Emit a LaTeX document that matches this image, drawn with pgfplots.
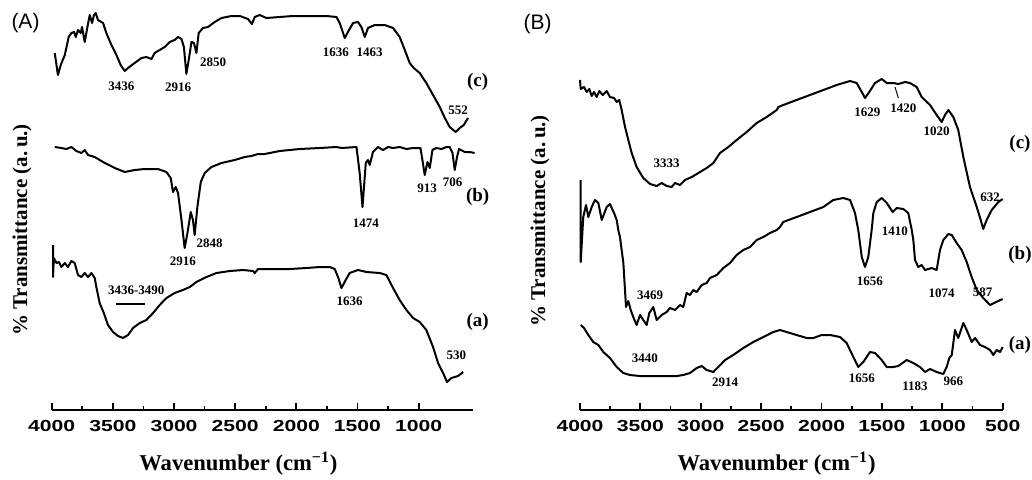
\documentclass[border=0pt]{standalone}
\usepackage{fontspec}
\setmainfont{Liberation Serif}
\setsansfont{Liberation Sans}
\newfontfamily\tickfont{Liberation Sans}[FakeStretch=1.32]
\usepackage{pgfplots}
\pgfplotsset{compat=1.18}

% one px of the reference = 0.5pt
\pgfplotsset{
  ftir/.style={
    scale only axis, height=205pt, ymin=0, ymax=410,
    x dir=reverse, enlargelimits=false, clip=false,
    axis x line*=bottom, axis y line=none, ytick=\empty,
    x axis line style={-, line width=1pt},
    tick align=inside,
    major tick length=3.6pt, minor tick length=2.1pt,
    tick style={black, line width=0.9pt},
    minor x tick num=1,
    /pgf/number format/assume math mode=true,
    /pgf/number format/1000 sep={},
    xticklabel style={font=\tickfont\bfseries\fontsize{8}{9}\selectfont, yshift=-1.6pt},
  },
  spec/.style={black, line width=1pt, line join=round, mark=none},
}
\tikzset{
  pk/.style={font=\bfseries\fontsize{6.5}{7}\selectfont, inner sep=0pt},
  lab/.style={font=\bfseries\fontsize{9.5}{10}\selectfont, inner sep=0pt},
}

\begin{document}
\begin{tikzpicture}

% ---------------- panel A ----------------
\begin{axis}[ftir, at={(25.85pt,34.5pt)}, anchor=south west,
  width=210.8pt, xmin=553, xmax=4000,
  xtick={4000,3500,3000,2500,2000,1500,1000}]

% (c)
\addplot[spec] coordinates {
(3975,357) (3949,335) (3926,345) (3893,355) (3861,373) (3839,377) (3817,378)
(3803,373) (3785,380) (3763,377) (3752,383) (3730,368) (3708,383) (3689,395)
(3670,387) (3654,395) (3640,397) (3622,390) (3580,387) (3553,377) (3512,365)
(3471,355) (3436,345) (3403,339) (3376,342) (3322,347) (3266,352) (3226,353)
(3184,351) (3158,357) (3117,360) (3076,363) (3035,368) (2995,370) (2967,373)
(2939,371) (2919,363) (2899,336) (2880,350) (2857,368) (2837,367) (2817,357)
(2798,377) (2763,382) (2722,383) (2667,388) (2612,392) (2531,394) (2462,394)
(2395,391) (2363,386) (2340,393) (2299,395) (2244,392) (2136,393) (2027,394)
(1891,394) (1754,394) (1672,393) (1645,387) (1604,372) (1578,378) (1536,387)
(1496,388) (1468,383) (1440,373) (1414,382) (1359,385) (1277,385) (1209,382)
(1155,373) (1113,360) (1073,347) (1040,342) (991,337) (937,327) (882,315)
(827,303) (786,292) (746,283) (697,278) (664,282) (631,285) (596,292)
};

% (b)
\addplot[spec] coordinates {
(3975,263) (3921,262) (3880,261) (3839,263) (3798,259) (3757,257) (3730,260)
(3703,255) (3648,253) (3566,247) (3484,242) (3403,238) (3322,240) (3240,241)
(3131,241) (3062,238) (3027,232) (3008,218) (2986,223) (2967,217) (2939,190)
(2913,162) (2890,177) (2863,198) (2845,190) (2831,175) (2809,203) (2781,228)
(2749,237) (2694,243) (2612,247) (2504,250) (2422,253) (2367,254) (2313,256)
(2258,256) (2136,259) (1973,261) (1809,262) (1672,263) (1631,262) (1508,263)
(1482,237) (1459,203) (1432,247) (1414,250) (1400,245) (1373,258) (1332,263)
(1291,260) (1250,263) (1209,262) (1155,263) (1100,261) (1045,262) (985,262)
(969,250) (950,235) (928,248) (909,242) (887,260) (855,262) (813,261)
(773,263) (746,263) (723,257) (705,240) (686,253) (670,261) (623,258)
(582,258) (542,257)
};

% (a)
\addplot[spec] coordinates {
(3989,165) (3989,133) (3983,152) (3961,147) (3941,148) (3921,143) (3893,147)
(3867,143) (3839,149) (3812,147) (3785,135) (3757,133) (3730,137) (3703,133)
(3675,137) (3648,132) (3635,123) (3608,107) (3574,97) (3540,85) (3498,78)
(3458,74) (3417,72) (3376,75) (3335,82) (3280,87) (3226,90) (3171,97)
(3117,105) (3062,112) (2995,117) (2927,120) (2871,123) (2817,128) (2735,133)
(2653,137) (2544,139) (2436,140) (2354,139) (2340,137) (2313,141) (2191,141)
(2054,141) (1917,142) (1809,143) (1727,143) (1686,141) (1659,133) (1631,122)
(1596,130) (1564,137) (1496,140) (1426,138) (1318,137) (1264,135) (1209,122)
(1155,110) (1100,100) (1045,92) (991,88) (937,80) (882,63) (841,47)
(800,37) (768,28) (732,32) (678,34) (636,38)
};

% bar under the 3436-3490 label
\addplot[black, line width=0.7pt] coordinates {(3471,106) (3240,106)};

\node[pk] at (axis cs:3430,324) {3436};
\node[pk] at (axis cs:2967,323) {2916};
\node[pk] at (axis cs:2681,348) {2850};
\node[pk] at (axis cs:1677,358) {1636};
\node[pk] at (axis cs:1400,358) {1463};
\node[pk] at (axis cs:678,300) {552};
\node[lab] at (axis cs:517,328) {(c)};
\node[pk] at (axis cs:931,222) {913};
\node[pk] at (axis cs:723,228) {706};
\node[pk] at (axis cs:1432,187) {1474};
\node[pk] at (axis cs:2927,149) {2916};
\node[pk] at (axis cs:2708,167) {2848};
\node[lab] at (axis cs:517,213) {(b)};
\node[pk] at (axis cs:3308,120) {3436-3490};
\node[pk] at (axis cs:1564,109) {1636};
\node[pk] at (axis cs:691,55) {530};
\node[lab] at (axis cs:517,88) {(a)};
\end{axis}

% ---------------- panel B ----------------
\begin{axis}[ftir, at={(290pt,34.5pt)}, anchor=south west,
  width=211.35pt, xmin=500, xmax=4000,
  xtick={4000,3500,3000,2500,2000,1500,1000,500}]

% (c)
\addplot[spec] coordinates {
(4000,330) (3994,321) (3967,323) (3945,318) (3923,321) (3903,314) (3884,318)
(3862,313) (3840,319) (3812,315) (3779,319) (3752,313) (3718,312) (3696,308)
(3675,310) (3655,300) (3627,283) (3600,270) (3572,257) (3531,243) (3476,232)
(3420,226) (3365,224) (3324,227) (3282,224) (3241,223) (3213,227) (3172,225)
(3131,230) (3075,233) (3006,238) (2951,242) (2896,247) (2841,257) (2772,263)
(2703,270) (2620,278) (2537,287) (2454,293) (2371,300) (2358,303) (2317,305)
(2206,310) (2096,315) (1985,320) (1875,325) (1764,329) (1709,327) (1667,318)
(1640,312) (1605,318) (1557,327) (1502,331) (1460,327) (1406,327) (1364,326)
(1309,328) (1268,327) (1212,323) (1171,313) (1102,305) (1047,295) (1005,288)
(978,295) (950,300) (909,293) (868,280) (826,253) (771,223) (715,203)
(682,190) (661,181) (633,190) (591,200) (536,208) (500,211)
};

% (b)
\addplot[spec] coordinates {
(3994,230) (3994,148) (3973,193) (3950,205) (3931,193) (3903,203) (3876,210)
(3848,207) (3820,190) (3779,203) (3752,206) (3718,197) (3696,190) (3683,180)
(3669,173) (3641,147) (3619,103) (3600,109) (3580,100) (3559,93) (3531,85)
(3503,95) (3476,90) (3448,85) (3426,97) (3393,103) (3365,90) (3324,95)
(3282,98) (3255,102) (3213,100) (3172,105) (3145,103) (3117,117) (3089,115)
(3062,120) (3034,118) (2992,125) (2951,127) (2924,132) (2868,135) (2813,142)
(2758,147) (2703,155) (2648,160) (2592,163) (2537,170) (2482,173) (2427,177)
(2371,180) (2344,183) (2317,188) (2206,193) (2096,198) (1985,203) (1903,210)
(1820,212) (1764,210) (1723,197) (1696,180) (1667,153) (1640,143) (1613,153)
(1585,180) (1571,197) (1543,208) (1502,212) (1460,207) (1411,198) (1378,202)
(1323,201) (1282,197) (1253,180) (1240,170) (1226,150) (1199,143) (1171,145)
(1143,140) (1088,142) (1047,140) (1019,160) (992,170) (950,176) (922,175)
(881,167) (840,160) (798,148) (757,133) (715,120) (661,112) (605,105)
(555,108) (500,111)
};

% (a)
\addplot[spec] coordinates {
(3994,85) (3967,82) (3931,75) (3890,68) (3848,65) (3807,58) (3752,52)
(3696,43) (3641,37) (3586,35) (3503,34) (3420,34) (3310,34) (3199,34)
(3145,35) (3089,37) (3034,42) (2992,44) (2951,40) (2896,38) (2855,43)
(2799,50) (2731,55) (2648,62) (2565,68) (2482,73) (2400,78) (2344,80)
(2289,78) (2206,75) (2123,72) (2068,72) (1999,75) (1930,75) (1847,73)
(1792,67) (1737,53) (1696,43) (1654,48) (1599,58) (1557,57) (1502,50)
(1460,43) (1406,43) (1364,44) (1295,50) (1240,47) (1185,43) (1143,38)
(1102,41) (1047,38) (992,36) (964,43) (942,52) (922,55) (895,80)
(868,72) (826,87) (798,80) (757,68) (729,72) (688,65) (647,63)
(605,60) (578,55) (550,60) (522,58) (500,63)
};

% tick from the 1420 label to its shoulder
\addplot[black, line width=0.5pt] coordinates {(1392,323) (1364,312)};

\node[pk] at (axis cs:3282,247) {3333};
\node[pk] at (axis cs:1621,298) {1629};
\node[pk] at (axis cs:1323,302) {1420};
\node[pk] at (axis cs:1047,279) {1020};
\node[pk] at (axis cs:605,213) {632};
\node[lab] at (axis cs:357,266) {(c)};
\node[pk] at (axis cs:1392,179) {1410};
\node[pk] at (axis cs:1599,129) {1656};
\node[pk] at (axis cs:1005,117) {1074};
\node[pk] at (axis cs:666,118) {587};
\node[pk] at (axis cs:3420,115) {3469};
\node[lab] at (axis cs:357,155) {(b)};
\node[pk] at (axis cs:3462,52) {3440};
\node[pk] at (axis cs:2799,28) {2914};
\node[pk] at (axis cs:1667,32) {1656};
\node[pk] at (axis cs:1226,24) {1183};
\node[pk] at (axis cs:909,29) {966};
\node[lab] at (axis cs:357,65) {(a)};
\end{axis}

% panel letters and axis titles
\node[font=\sffamily\fontsize{10.5}{11}\selectfont] at (12.75pt,227.75pt) {(A)};
\node[font=\sffamily\fontsize{10.5}{11}\selectfont] at (268.75pt,227.5pt) {(B)};
\node[rotate=90, font=\bfseries\fontsize{10.5}{11}\selectfont] at (11pt,124.5pt) {\% Transmittance (a.\,u.)};
\node[rotate=90, font=\bfseries\fontsize{10.5}{11}\selectfont] at (270pt,129pt) {\% Transmittance (a.\,u.)};
\node[font=\bfseries\fontsize{11.3}{12}\selectfont] at (119.2pt,7.8pt) {Wavenumber (cm\textsuperscript{−1})};
\node[font=\bfseries\fontsize{11.3}{12}\selectfont] at (388.3pt,7.8pt) {Wavenumber (cm\textsuperscript{−1})};

\pgfresetboundingbox
\path[use as bounding box] (0,0) rectangle (516pt,239.5pt);
\end{tikzpicture}
\end{document}
